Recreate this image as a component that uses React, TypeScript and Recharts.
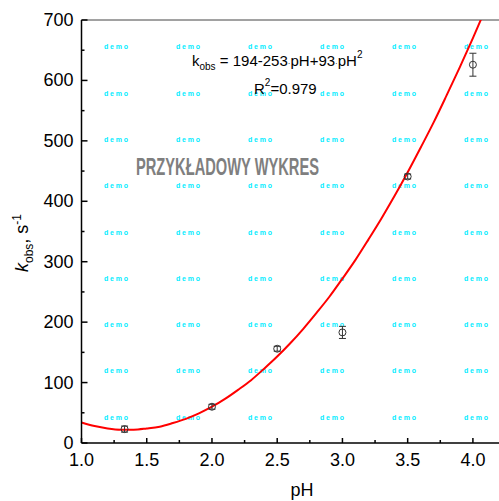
import { ComposedChart, Line, Scatter, ErrorBar, XAxis, YAxis, ReferenceLine, Customized } from 'recharts'

// measured points (pH, k_obs, error)
const phValues = [1.33, 2.0, 2.5, 3.0, 3.5, 4.0]
const kobsValues = [23, 60, 156, 183, 441, 626]
const kobsErrors = [5, 4, 4, 10, 4, 19]

// fitted curve
const fitPh = [1.0, 1.1, 1.2, 1.3, 1.4, 1.5, 1.6, 1.7, 1.8, 1.9, 2.0, 2.1, 2.2, 2.3, 2.4, 2.5, 2.6, 2.7, 2.8, 2.9, 3.0, 3.1, 3.2, 3.3, 3.4, 3.5, 3.6, 3.7, 3.8, 3.9, 4.0, 4.1]
const fitK = [34, 28, 24, 22, 22, 24, 27, 33, 40, 49, 60, 73, 88, 104, 123, 143, 165, 189, 215, 242, 272, 303, 337, 372, 409, 448, 489, 531, 576, 622, 670, 720]

const xTicks = [1.0, 1.25, 1.5, 1.75, 2.0, 2.25, 2.5, 2.75, 3.0, 3.25, 3.5, 3.75, 4.0]
const yTicks = [0, 50, 100, 150, 200, 250, 300, 350, 400, 450, 500, 550, 600, 650, 700]

const points = phValues.map((x, i) => ({ x, y: kobsValues[i], err: kobsErrors[i] }))
const curve = fitPh.map((x, i) => ({ x, y: fitK[i] }))

const demoCols = [104, 176, 248, 320, 392, 464]
const demoRows = [46.7, 93, 139.3, 185.6, 232, 278, 324.5, 370.8, 417]

const XTick = (props: any) => {
  const { x, y, payload } = props
  const v = payload.value
  const major = Math.abs(v * 2 - Math.round(v * 2)) < 1e-6
  return (
    <g>
      <line x1={x} y1={y} x2={x} y2={y - (major ? 5 : 3)} stroke="#000" strokeWidth={1.5} />
      {major && (
        <text x={x} y={y + 23} textAnchor="middle" fontSize={18} fill="#000">
          {v.toFixed(1)}
        </text>
      )}
    </g>
  )
}

const YTick = (props: any) => {
  const { x, y, payload } = props
  const v = payload.value
  const major = v % 100 === 0
  return (
    <g>
      <line x1={x} y1={y} x2={x + (major ? 6 : 3)} y2={y} stroke="#000" strokeWidth={1.5} />
      {major && (
        <text x={x - 8} y={y + 6} textAnchor="end" fontSize={18} fill="#000">
          {v}
        </text>
      )}
    </g>
  )
}

const Marker = (props: any) => {
  const { cx, cy } = props
  return <circle cx={cx} cy={cy} r={3.5} fill="none" stroke="#333" strokeWidth={1} />
}

const Watermarks = () => (
  <g>
    {demoRows.map((ry) =>
      demoCols.map((cx) => (
        <text
          key={`${cx}-${ry}`}
          x={cx}
          y={ry + 2.5}
          fontSize={7}
          fontWeight="bold"
          fill="#00ecff"
          textLength={24}
          lengthAdjust="spacing"
        >
          demo
        </text>
      ))
    )}
  </g>
)

const Annotations = () => (
  <g>
    <text x={192} y={66} fontSize={15} fill="#000">
      <tspan>k</tspan>
      <tspan fontSize={10} dy={4}>obs</tspan>
      <tspan dy={-4}> = 194-253</tspan>
      <tspan fontSize={8}>·</tspan>
      <tspan>pH+93</tspan>
      <tspan fontSize={8}>·</tspan>
      <tspan>pH</tspan>
      <tspan fontSize={10} dy={-8}>2</tspan>
    </text>
    <text x={254} y={94} fontSize={15} fill="#000">
      <tspan>R</tspan>
      <tspan fontSize={10} dy={-8}>2</tspan>
      <tspan dy={8}>=0.979</tspan>
    </text>
    <text
      x={136}
      y={175}
      fontSize={23}
      fontWeight="bold"
      fill="#7f7f7f"
      fontFamily="'Liberation Sans Narrow', 'Liberation Sans', Arial, sans-serif"
      textLength={183}
      lengthAdjust="spacingAndGlyphs"
    >
      PRZYKŁADOWY WYKRES
    </text>
    <text transform="translate(28,243) rotate(-90)" textAnchor="middle" fontSize={18} fill="#000">
      <tspan fontStyle="italic">k</tspan>
      <tspan fontSize={12} dy={5}>obs</tspan>
      <tspan dy={-5}>, s</tspan>
      <tspan fontSize={12} dy={-7}>-1</tspan>
    </text>
    <text x={302} y={496} textAnchor="middle" fontSize={18} fill="#000">
      pH
    </text>
  </g>
)

export default function App() {
  return (
    <div style={{ position: 'absolute', left: 0, top: 0, fontFamily: "'Liberation Sans', Arial, sans-serif", background: '#fff' }}>
      <ComposedChart width={499} height={501} margin={{ top: 20, right: 0, left: 0, bottom: 0 }}>
        <Customized component={Watermarks} />
        <XAxis
          dataKey="x"
          type="number"
          domain={[1, 4.2]}
          ticks={xTicks}
          allowDataOverflow
          height={58}
          tickSize={0}
          tickMargin={0}
          tick={<XTick />}
          axisLine={{ stroke: '#000', strokeWidth: 1.5 }}
          tickLine={false}
        />
        <YAxis
          dataKey="y"
          type="number"
          domain={[0, 700]}
          ticks={yTicks}
          allowDataOverflow
          width={81.5}
          tickSize={0}
          tickMargin={0}
          tick={<YTick />}
          axisLine={{ stroke: '#000', strokeWidth: 1.5 }}
          tickLine={false}
        />
        <ReferenceLine y={700} stroke="#444" strokeWidth={1} />
        <Line
          data={curve}
          dataKey="y"
          type="monotone"
          stroke="#ff0000"
          strokeWidth={2}
          dot={false}
          activeDot={false}
          isAnimationActive={false}
        />
        <Scatter data={points} dataKey="y" shape={<Marker />} isAnimationActive={false}>
          <ErrorBar dataKey="err" direction="y" width={3.5} stroke="#333" strokeWidth={1} />
        </Scatter>
        <Customized component={Annotations} />
      </ComposedChart>
    </div>
  )
}
